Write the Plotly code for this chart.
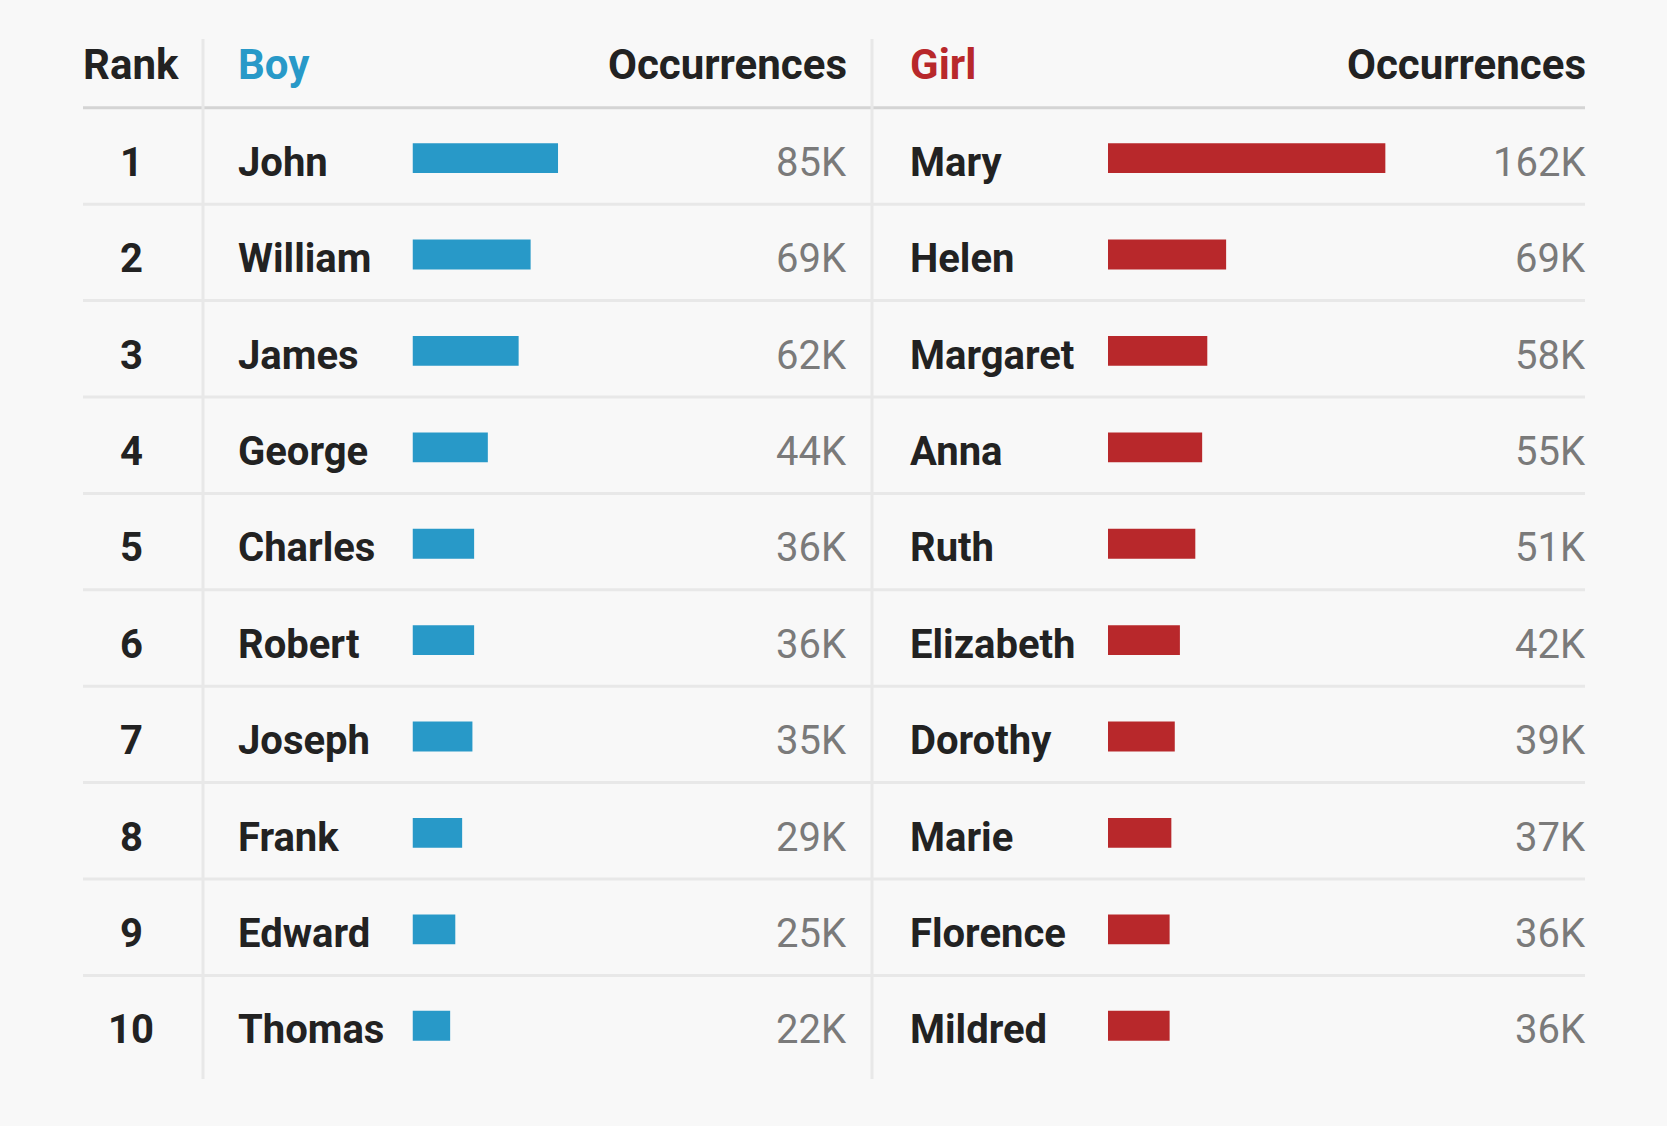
import plotly.graph_objects as go

# ---- data ----
ranks = [1, 2, 3, 4, 5, 6, 7, 8, 9, 10]
boy_names = ["John", "William", "James", "George", "Charles",
             "Robert", "Joseph", "Frank", "Edward", "Thomas"]
boy_counts = [85, 69, 62, 44, 36, 36, 35, 29, 25, 22]  # thousands
girl_names = ["Mary", "Helen", "Margaret", "Anna", "Ruth",
              "Elizabeth", "Dorothy", "Marie", "Florence", "Mildred"]
girl_counts = [162, 69, 58, 55, 51, 42, 39, 37, 36, 36]  # thousands
headers = ["Rank", "Boy", "Occurrences", "Girl", "Occurrences"]

W, H = 1667, 1126
BG = "#f8f8f8"
BLUE = "#2899c8"
RED = "#b8282b"
DARK = "#222222"
GREY = "#7a7a7a"
FONT = "Roboto"

# row geometry (pixels)
row0 = 156.0
row_h = 96.4
px_per_k = 1.712
bar_w = 0.31


def rank_of(py):
    return (py - row0) / row_h + 1


fig = go.Figure()

# bars on their own value axes
boy_x0, girl_x0 = 412.5, 1108.0
boy_max, girl_max = 100, 170
fig.add_trace(go.Bar(x=boy_counts, y=ranks, orientation="h", width=bar_w,
                     offset=-bar_w / 2 + 0.022,
                     marker=dict(color=BLUE, line=dict(width=0)),
                     xaxis="x2", yaxis="y", hoverinfo="skip"))
fig.add_trace(go.Bar(x=girl_counts, y=ranks, orientation="h", width=bar_w,
                     offset=-bar_w / 2 + 0.022,
                     marker=dict(color=RED, line=dict(width=0)),
                     xaxis="x3", yaxis="y", hoverinfo="skip"))

ann = []
def txt(x, y, s, color=DARK, anchor="left", bold=True, size=40):
    ann.append(dict(x=x, y=y, xref="x", yref="y", text=s, showarrow=False,
                    xanchor=anchor, yanchor="middle",
                    font=dict(family=FONT, size=size, color=color,
                              weight="bold" if bold else "normal")))

# header
hy = rank_of(64)
txt(131, hy, headers[0], anchor="center", size=42)
txt(236, hy, headers[1], color=BLUE, size=42)
txt(849, hy, headers[2], anchor="right", size=42)
txt(908, hy, headers[3], color=RED, size=42)
txt(1588, hy, headers[4], anchor="right", size=42)

for r, bn, bc, gn, gc in zip(ranks, boy_names, boy_counts, girl_names, girl_counts):
    ty = r + 0.065
    txt(131, ty, str(r), anchor="center")
    txt(236, ty, bn)
    txt(849, ty, f"{bc}K", color=GREY, anchor="right", bold=False)
    txt(908, ty, gn)
    txt(1588, ty, f"{gc}K", color=GREY, anchor="right", bold=False)

shapes = []
# header underline
shapes.append(dict(type="line", xref="x", yref="y", x0=83, x1=1585,
                   y0=0.5, y1=0.5, line=dict(color="#d4d4d4", width=3)))
# row separators
for r in ranks[:-1]:
    shapes.append(dict(type="line", xref="x", yref="y", x0=83, x1=1585,
                       y0=r + 0.5, y1=r + 0.5, line=dict(color="#e8e8e8", width=3)))
# column separators
for vx in [203, 872]:
    shapes.append(dict(type="line", xref="x", yref="y", x0=vx, x1=vx,
                       y0=rank_of(39), y1=rank_of(1079),
                       line=dict(color="#e8e8e8", width=3)))

fig.update_layout(
    width=W, height=H,
    margin=dict(l=0, r=0, t=0, b=0),
    paper_bgcolor=BG, plot_bgcolor="rgba(0,0,0,0)",
    showlegend=False, barmode="overlay",
    annotations=ann, shapes=shapes,
    xaxis=dict(range=[0, W], domain=[0, 1], visible=False, fixedrange=True),
    xaxis2=dict(range=[0, boy_max],
                domain=[boy_x0 / W, (boy_x0 + boy_max * px_per_k) / W],
                visible=False, fixedrange=True, anchor="y"),
    xaxis3=dict(range=[0, girl_max],
                domain=[girl_x0 / W, (girl_x0 + girl_max * px_per_k) / W],
                visible=False, fixedrange=True, anchor="y"),
    yaxis=dict(range=[rank_of(H), rank_of(0)], domain=[0, 1],
               visible=False, fixedrange=True),
)

# page margin off so the grey background reaches the window edges
fig.write_html("out.html", config={"displayModeBar": False},
               post_script="document.body.style.margin='0';"
                           "document.body.style.background='%s';" % BG)
